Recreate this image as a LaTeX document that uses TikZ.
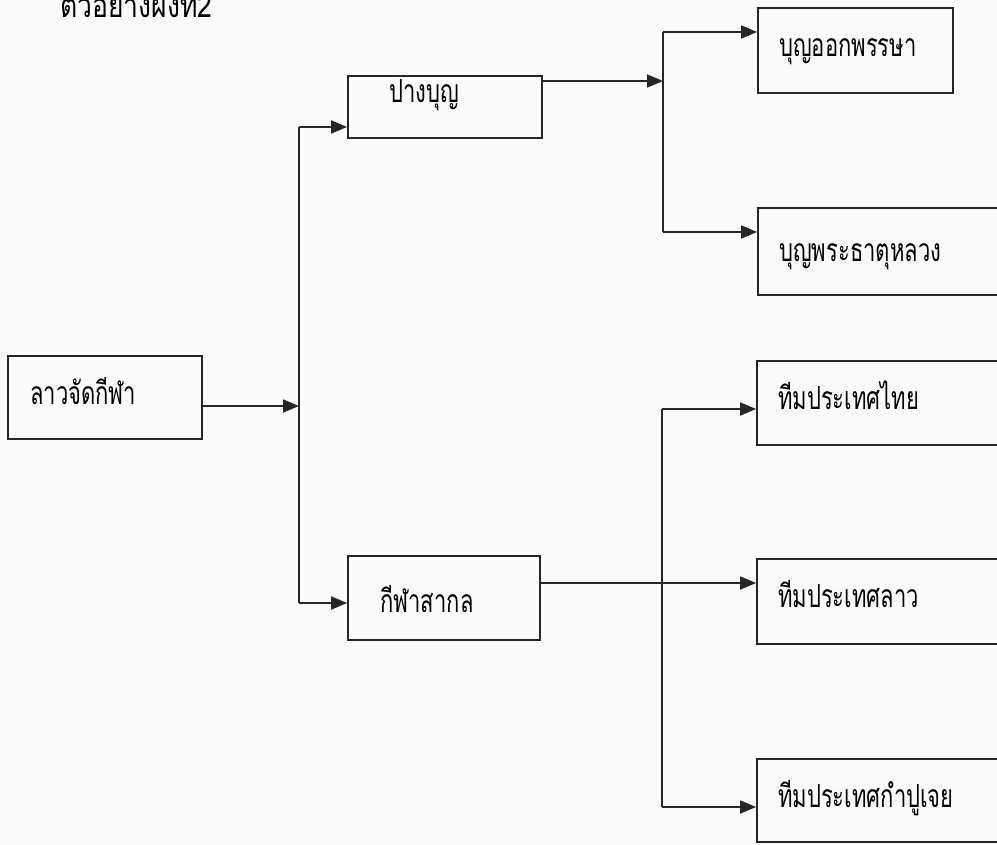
\documentclass[tikz,border=0pt]{standalone}
\usepackage{fontspec}
\newfontfamily\thaifont[Script=Thai]{Loma}
\usetikzlibrary{arrows.meta}
\newcommand{\tall}[1]{\scalebox{1}[1.45]{#1}}
\tikzset{
  box/.style={draw=black!85, line width=1.8pt, inner sep=0pt},
  label/.style={anchor=base west, inner sep=0pt, font=\thaifont\fontsize{22}{26}\selectfont},
  conn/.style={draw=black!85, line width=1.8pt},
  arr/.style={conn, -{Triangle[length=16pt,width=13pt]}},
}
\begin{document}
\begin{tikzpicture}[x=1pt,y=-1pt]
\useasboundingbox[fill=black!2] (0,0) rectangle (997,845);
\node[anchor=base west, inner sep=0pt, font=\thaifont\fontsize{26.5}{30}\selectfont] (title) at (60,18) {\scalebox{1}[1.25]{ตัวอย่างผังที่2}};
% boxes
\node[box, minimum width=194pt, minimum height=83pt] (main) at (105,397.5) {};
\node[label] (tmain) at (30,404) {\tall{ลาวจัดกีฬา}};
\node[box, minimum width=194pt, minimum height=62pt] (pang) at (445,107) {};
\node[label] (tpang) at (389,103) {\tall{ปางบุญ}};
\node[box, minimum width=192pt, minimum height=84pt] (kila) at (444,598) {};
\node[label] (tkila) at (380,612) {\tall{กีฬาสากล}};
\node[box, minimum width=195pt, minimum height=85pt] (b1) at (855.5,50.5) {};
\node[label] (tb1) at (779,57) {\tall{บุญออกพรรษา}};
\node[box, minimum width=250pt, minimum height=87pt] (b2) at (883,251.5) {};
\node[label] (tb2) at (779,262) {\tall{บุญพระธาตุหลวง}};
\node[box, minimum width=250pt, minimum height=84pt] (t1) at (882,403) {};
\node[label] (tt1) at (778,409) {\tall{ทีมประเทศไทย}};
\node[box, minimum width=250pt, minimum height=85pt] (t2) at (882,601.5) {};
\node[label] (tt2) at (778,607) {\tall{ทีมประเทศลาว}};
\node[box, minimum width=250pt, minimum height=83pt] (t3) at (882,800.5) {};
\node[label] (tt3) at (778,807) {\tall{ทีมประเทศกำปูเจย}};
% junction coordinates
\coordinate (j1) at (299,406);
\coordinate (j1t) at (299,127);
\coordinate (j1b) at (299,603);
\coordinate (j2) at (663,81);
\coordinate (j2t) at (663,32);
\coordinate (j2b) at (663,232);
\coordinate (j3t) at (662,409);
\coordinate (j3b) at (662,807);
% connectors
\draw[arr] (main.east |- j1) -- (j1);
\draw[conn] (j1t) -- (j1b);
\draw[arr] (j1t) -- (pang.west |- j1t);
\draw[arr] (j1b) -- (kila.west |- j1b);
\draw[arr] (pang.east |- j2) -- (j2);
\draw[conn] (j2t) -- (j2b);
\draw[arr] (j2t) -- (b1.west |- j2t);
\draw[arr] (j2b) -- (b2.west |- j2b);
\draw[arr] (kila.east |- 0,583) -- (t2.west |- 0,583);
\draw[conn] (j3t) -- (j3b);
\draw[arr] (j3t) -- (t1.west |- j3t);
\draw[arr] (j3b) -- (t3.west |- j3b);
\end{tikzpicture}
\end{document}
